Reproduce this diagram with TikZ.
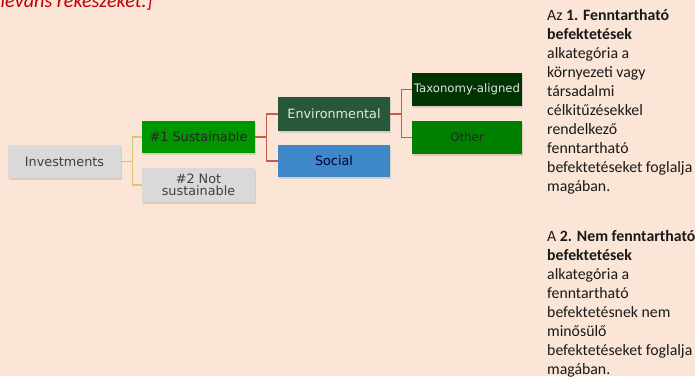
\documentclass[tikz,border=0pt]{standalone}
\usepackage{fontspec}
\setmainfont{Carlito}
\newfontfamily\boxfont{DejaVu Sans}
\usetikzlibrary{shadows}
\definecolor{Paper}{RGB}{250, 229, 215}
\definecolor{BoxGray}{RGB}{217, 217, 217}
\definecolor{SusGreen}{RGB}{0, 150, 0}
\definecolor{EnvGreen}{RGB}{40, 88, 58}
\definecolor{SocBlue}{RGB}{62, 135, 200}
\definecolor{TaxGreen}{RGB}{0, 52, 0}
\definecolor{OthGreen}{RGB}{0, 128, 0}
\definecolor{TanLine}{RGB}{214, 198, 118}
\definecolor{RedLine}{RGB}{200, 92, 68}
\definecolor{NoteRed}{RGB}{192, 0, 0}

\begin{document}
\begin{tikzpicture}[x=1pt, y=-1pt,
    catbox/.style={minimum width=113pt, minimum height=33pt, inner sep=1pt, align=center,
        font=\boxfont\fontsize{12.8}{14}\selectfont,
        drop shadow={shadow xshift=1pt, shadow yshift=-1.5pt, opacity=0.25}},
    tanline/.style={draw=TanLine, line width=1.2pt},
    redline/.style={draw=RedLine, line width=1.2pt},
    note/.style={anchor=north west, inner sep=0pt, align=flush left, text=black!90,
        font=\fontsize{15.8}{19}\selectfont}]
    % background and margins
    \fill[Paper] (0,0) rectangle (695,376);
    \useasboundingbox (0,0) rectangle (695,376);
    \begin{scope}
        \clip (0,0) rectangle (695,376);
        \node (topnote) [anchor=base east, inner sep=0pt, text=NoteRed,
            font=\fontsize{20.2}{22}\selectfont\itshape] at (153,7) {releváns rekeszeket.]};
    \end{scope}

    % tree
    \node (inv) [catbox, fill=BoxGray, text=black!75] at (64.5,161.5) {Investments};
    \node (sus) [catbox, fill=SusGreen, text=black!85, minimum height=32pt] at (198.5,137) {\#1 Sustainable};
    \node (notsus) [catbox, fill=BoxGray, text=black!75, minimum height=34pt] at (198.5,185)
        {\#2 Not\\[-2pt]sustainable};
    \node (env) [catbox, fill=EnvGreen, text=white!90!black, minimum width=112pt, minimum height=34pt]
        at (334,114) {Environmental};
    \node (soc) [catbox, fill=SocBlue, text=blue!20!black, minimum width=112pt, minimum height=32pt]
        at (334,161) {Social};
    \node (tax) [catbox, fill=TaxGreen, text=white!90!black, minimum width=110pt,
        font=\boxfont\fontsize{11.7}{13}\selectfont] at (467,89.5) {Taxonomy-aligned};
    \node (oth) [catbox, fill=OthGreen, text=black!85, minimum width=110pt,
        font=\boxfont\fontsize{11.7}{13}\selectfont] at (467,137.5) {Other};

    % connectors
    \draw[tanline] (inv.east) -- ++(11,0) |- (sus.west);
    \draw[tanline] (inv.east) -- ++(11,0) |- (notsus.west);
    \draw[redline] (sus.east) -- ++(11,0) |- (env.west);
    \draw[redline] (sus.east) -- ++(11,0) |- (soc.west);
    \draw[redline] (env.east) -- ++(11,0) |- (tax.west);
    \draw[redline] (env.east) -- ++(11,0) |- (oth.west);

    % side notes
    \node (note1) [note] at (547,9.4) {Az \textbf{1. Fenntartható}\\ \textbf{befektetések}\\
        alkategória a\\ környezeti vagy\\ társadalmi\\ célkitűzésekkel\\ rendelkező\\
        fenntartható\\ befektetéseket foglalja\\ magában.};
    \node (note2) [note] at (547,230.4) {A \textbf{2. Nem fenntartható}\\ \textbf{befektetések}\\
        alkategória a\\ fenntartható\\ befektetésnek nem\\ minősülő\\
        befektetéseket foglalja\\ magában.};
\end{tikzpicture}
\end{document}
